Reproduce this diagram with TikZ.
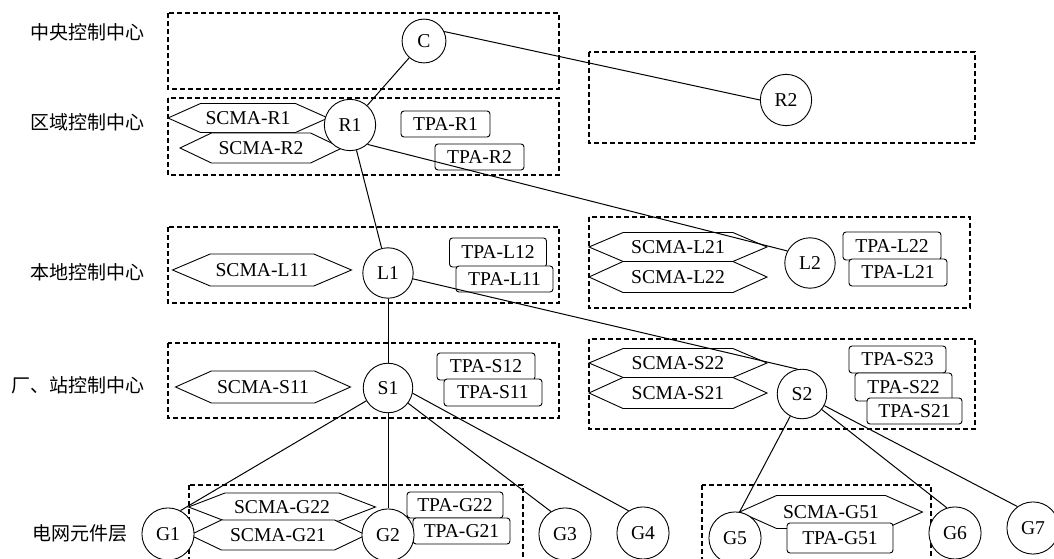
\documentclass[tikz,border=0pt]{standalone}
\usepackage{fontspec}
\setmainfont{Liberation Serif}
\newfontfamily\cjk{Noto Sans CJK SC}
\usetikzlibrary{shapes.symbols}
\begin{document}
\begin{tikzpicture}[x=1pt,y=-1pt,
  every node/.style={font=\fontsize{19.6}{22}\selectfont},
  layerbox/.style={draw, dash pattern=on 5pt off 3pt, line width=1.6pt},
  hexbox/.style={signal, signal to=east and west, signal pointer angle=48, draw, fill=white, line width=0.9pt, inner xsep=2pt, inner ysep=0pt},
  tpabox/.style={draw, fill=white, rounded corners=3pt, line width=0.9pt, minimum width=97pt, minimum height=27pt, inner sep=1pt},
  ctr/.style={circle, draw, fill=white, line width=0.9pt, inner sep=9pt},
  layerlbl/.style={anchor=east, font=\cjk\fontsize{19}{22}\selectfont},
  link/.style={line width=1pt}]
\useasboundingbox (0,0) rectangle (1054,559);

% layer labels
\node[layerlbl] (lblC) at (148,32) {中央控制中心};
\node[layerlbl] (lblR) at (148,122) {区域控制中心};
\node[layerlbl] (lblL) at (148,272) {本地控制中心};
\node[layerlbl] (lblS) at (148,385) {厂、站控制中心};
\node[layerlbl] (lblG) at (131,533) {电网元件层};

% dashed boxes
\draw[layerbox] (168,13) rectangle (559,89);
\draw[layerbox] (168,98) rectangle (559,175);
\draw[layerbox] (589,52) rectangle (975,143);
\draw[layerbox] (168,227) rectangle (559,303);
\draw[layerbox] (589,217) rectangle (970,308);
\draw[layerbox] (168,343) rectangle (559,418);
\draw[layerbox] (589,339) rectangle (975,429);
\draw[layerbox] (189,485) rectangle (523,570);
\draw[layerbox] (702,485) rectangle (931,570);

% SCMA hexagons
\node[hexbox, minimum width=160pt, minimum height=29pt] (hR1) at (248,118) {SCMA-R1};
\node[hexbox, minimum width=162pt, minimum height=30pt, signal pointer angle=51] (hR2) at (261,148) {SCMA-R2};
\node[hexbox, minimum width=179pt, minimum height=32pt, signal pointer angle=46] (hL11) at (262,270) {SCMA-L11};
\node[hexbox, minimum width=178pt, minimum height=29pt, signal pointer angle=46] (hL21) at (678,247) {SCMA-L21};
\node[hexbox, minimum width=178pt, minimum height=31pt, signal pointer angle=49] (hL22) at (678,277) {SCMA-L22};
\node[hexbox, minimum width=175pt, minimum height=32pt] (hS11) at (263,387) {SCMA-S11};
\node[hexbox, minimum width=178pt, minimum height=29pt, signal pointer angle=46] (hS22) at (678,363) {SCMA-S22};
\node[hexbox, minimum width=178pt, minimum height=31pt, signal pointer angle=49] (hS21) at (678,393) {SCMA-S21};
\node[hexbox, minimum width=187pt, minimum height=28pt, signal pointer angle=42] (hG22) at (282,507) {SCMA-G22};
\node[hexbox, minimum width=176pt, minimum height=30pt, signal pointer angle=51] (hG21) at (278,535) {SCMA-G21};
\node[hexbox, minimum width=183pt, minimum height=33pt] (hG51) at (831,512) {SCMA-G51};

% TPA boxes
\node[tpabox, minimum width=89pt, minimum height=26pt] (tR1) at (445.5,124) {TPA-R1};
\node[tpabox, minimum width=89pt, minimum height=26pt] (tR2) at (479.5,157) {TPA-R2};
\node[tpabox, minimum height=29pt] (tL12) at (498,252.5) {TPA-L12};
\node[tpabox, minimum height=26pt] (tL11) at (504.5,279) {TPA-L11};
\node[tpabox, minimum width=98pt] (tS12) at (486,366.5) {TPA-S12};
\node[tpabox, minimum width=98pt] (tS11) at (493,392.5) {TPA-S11};
\node[tpabox, minimum width=98pt, minimum height=28pt] (tL22) at (892,246) {TPA-L22};
\node[tpabox, minimum width=98pt] (tL21) at (898,272.5) {TPA-L21};
\node[tpabox] (tS23) at (897.5,359.5) {TPA-S23};
\node[tpabox, minimum height=28pt] (tS22) at (903.5,387) {TPA-S22};
\node[tpabox, minimum width=95pt, minimum height=26pt] (tS21) at (914.5,411) {TPA-S21};
\node[tpabox, minimum width=96pt, minimum height=26pt] (tG22) at (455,505) {TPA-G22};
\node[tpabox, minimum height=26pt] (tG21) at (461.5,531) {TPA-G21};
\node[tpabox, minimum width=106pt, minimum height=30pt] (tG51) at (840,538) {TPA-G51};

% control centres and grid elements
\node[ctr] (C) at (424,41) {C};
\node[ctr] (R1) at (350,125) {R1};
\node[ctr] (R2) at (786,100) {R2};
\node[ctr] (L1) at (388,273) {L1};
\node[ctr] (L2) at (810,263) {L2};
\node[ctr] (S1) at (388,388) {S1};
\node[ctr] (S2) at (802,394) {S2};
\node[ctr] (G1) at (168,534) {G1};
\node[ctr] (G2) at (388,535) {G2};
\node[ctr] (G3) at (565,534) {G3};
\node[ctr] (G4) at (643,533) {G4};
\node[ctr] (G5) at (735,538) {G5};
\node[ctr] (G6) at (955,533) {G6};
\node[ctr] (G7) at (1033,528) {G7};

% connectors
\draw[link] (C) -- (R1);
\draw[link] (C.25) -- (R2.west);
\draw[link] (R1) -- (L1);
\draw[link] (R1.-48) -- (L2.152);
\draw[link] (L1) -- (S1);
\draw[link] (L1) -- (S2.100);
\draw[link] (S1) -- (G1.62);
\draw[link] (S1) -- (G2);
\draw[link] (S1) -- (G3.122);
\draw[link] (S1.-12) -- (G4.123);
\draw[link] (S2) -- (G5.80);
\draw[link] (S2) -- (G6.108);
\draw[link] (S2) -- (G7.126);
\end{tikzpicture}
\end{document}
